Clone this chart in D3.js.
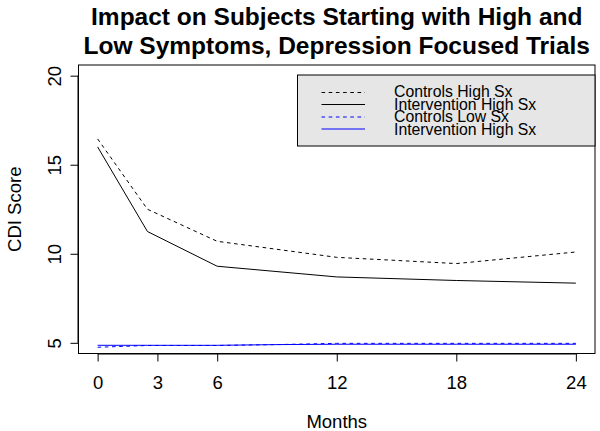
<!DOCTYPE html>
<html>
<head>
<meta charset="utf-8">
<script src="https://cdn.jsdelivr.net/npm/d3@7/dist/d3.min.js"></script>
<style>
  html, body { margin: 0; padding: 0; background: #fff; }
  svg { display: block; font-family: "Liberation Sans", Arial, sans-serif; }
</style>
</head>
<body>
<svg id="chart" width="600" height="431"></svg>
<script>
// ---- data ----
const months = [0, 2.5, 6, 9, 12, 18, 24];
const controlsHigh = [16.45, 12.5, 10.7, 10.25, 9.8, 9.45, 10.1];
const interventionHigh = [16.0, 11.25, 9.3, 9.0, 8.7, 8.5, 8.35];
const controlsLow = [4.75, 4.85, 4.85, 4.9, 4.97, 4.97, 4.97];
const interventionLow = [4.86, 4.86, 4.86, 4.9, 4.92, 4.92, 4.92];
const xTicks = [0, 3, 6, 12, 18, 24];
const yTicks = [5, 10, 15, 20];
const legendLabels = ["Controls High Sx", "Intervention High Sx", "Controls Low Sx", "Intervention High Sx"];
const titleLines = ["Impact on Subjects Starting with High and", "Low Symptoms, Depression Focused Trials"];

const series = [
  { values: controlsHigh, color: "#000", dash: "3.6,3.6" },
  { values: interventionHigh, color: "#000", dash: null },
  { values: controlsLow, color: "#0000ff", dash: "3.6,3.6" },
  { values: interventionLow, color: "#0000ff", dash: null }
];

const svg = d3.select("#chart");
const L = 78.5, R = 595, T = 65, B = 353.5;
const FONT = 18.5;

// R-style 4% extended ranges
const xlim = [0, 24], ylim = [5, 20];
const xe = (xlim[1] - xlim[0]) * 0.04, ye = (ylim[1] - ylim[0]) * 0.04;
const x = d3.scaleLinear().domain([xlim[0] - xe, xlim[1] + xe]).range([L, R]);
const y = d3.scaleLinear().domain([ylim[0] - ye, ylim[1] + ye]).range([B, T]);

// title
svg.append("g").selectAll("text").data(titleLines).join("text")
  .attr("x", (L + R) / 2)
  .attr("y", (d, i) => 24.5 + i * 29)
  .attr("text-anchor", "middle")
  .attr("font-weight", "bold")
  .attr("font-size", 24.5)
  .attr("fill", "#000")
  .text(d => d);

// lines
const line = d3.line().x((d, i) => x(months[i])).y(d => y(d));
svg.append("g").selectAll("path").data(series).join("path")
  .attr("d", d => line(d.values))
  .attr("fill", "none")
  .attr("stroke", d => d.color)
  .attr("stroke-width", 1)
  .attr("stroke-dasharray", d => d.dash);

// x axis
const xAxis = d3.axisBottom(x).tickValues(xTicks).tickSize(8).tickPadding(14).tickFormat(d3.format("d"));
const gx = svg.append("g").attr("transform", `translate(0,${B})`).call(xAxis);
gx.select(".domain").attr("d", `M${x(xTicks[0])},0.5H${x(xTicks[xTicks.length - 1])}`);
gx.selectAll("text").attr("font-size", FONT).attr("font-family", "Liberation Sans, Arial, sans-serif").attr("fill", "#000");

// y axis
const yAxis = d3.axisLeft(y).tickValues(yTicks).tickSize(8).tickPadding(0).tickFormat(d3.format("d"));
const gy = svg.append("g").attr("transform", `translate(${L},0)`).call(yAxis);
gy.select(".domain").attr("d", `M-0.5,${y(yTicks[0])}V${y(yTicks[yTicks.length - 1])}`);
gy.selectAll(".tick text")
  .attr("font-size", FONT)
  .attr("font-family", "Liberation Sans, Arial, sans-serif")
  .attr("fill", "#000")
  .attr("x", null).attr("dy", null)
  .attr("text-anchor", "middle")
  .attr("transform", "translate(-17.5,0) rotate(-90)");

// box
svg.append("rect")
  .attr("x", L).attr("y", T).attr("width", R - L).attr("height", B - T)
  .attr("fill", "none").attr("stroke", "#000").attr("stroke-width", 1);

// axis labels
svg.append("text").attr("x", (L + R) / 2).attr("y", 428)
  .attr("text-anchor", "middle").attr("font-size", FONT).text("Months");
svg.append("text")
  .attr("transform", `translate(21,${(T + B) / 2}) rotate(-90)`)
  .attr("text-anchor", "middle").attr("font-size", FONT).text("CDI Score");

// legend
const lg = svg.append("g");
const lgL = 297.5, lgT = 75, lgR = 595, lgB = 146;
lg.append("rect").attr("x", lgL).attr("y", lgT).attr("width", lgR - lgL).attr("height", lgB - lgT)
  .attr("fill", "#e6e6e6").attr("stroke", "#000").attr("stroke-width", 1);
const rowY = i => 91.5 + i * 12.5;
const lineY = (d, i) => Math.round(rowY(i)) + (d.color === "#000" ? 0.5 : 0);
lg.selectAll("line").data(series).join("line")
  .attr("x1", 321.5).attr("x2", 365)
  .attr("y1", lineY).attr("y2", lineY)
  .attr("stroke", d => d.color).attr("stroke-width", 1)
  .attr("stroke-dasharray", d => d.dash);
lg.selectAll("text").data(legendLabels).join("text")
  .attr("x", 394).attr("y", (d, i) => rowY(i))
  .attr("dy", "0.36em")
  .attr("font-size", 15.8).attr("fill", "#000")
  .text(d => d);
</script>
</body>
</html>
